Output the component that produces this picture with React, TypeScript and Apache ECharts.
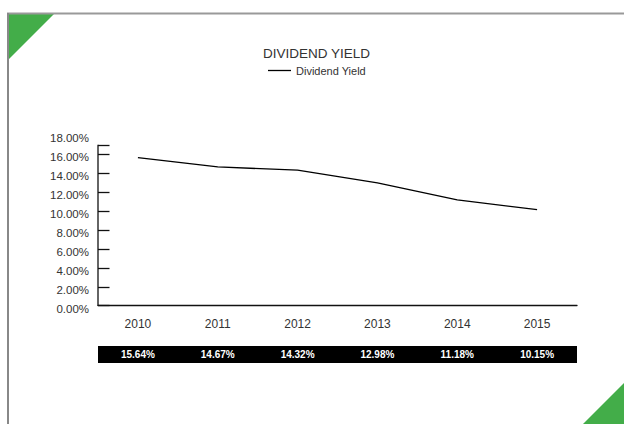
import React, { useEffect, useRef } from "react";
import * as echarts from "echarts";

const titleText = "DIVIDEND YIELD";
const seriesName = "Dividend Yield";
const years = ["2010", "2011", "2012", "2013", "2014", "2015"];
const yieldValues = [15.64, 14.67, 14.32, 12.98, 11.18, 10.15];
const yTickValues = [0, 2, 4, 6, 8, 10, 12, 14, 16];
const yAxisLineTop = 17;
const yMax = 18;

const FONT = "'Liberation Sans', Arial, Helvetica, sans-serif";
const GREEN = "#43ad49";
const AXIS = "#111";

export default function App() {
  const ref = useRef<HTMLDivElement>(null);
  useEffect(() => {
    const chart = echarts.init(ref.current!, null, { renderer: "svg" });
    chart.setOption({
      animation: false,
      backgroundColor: "#fff",
      textStyle: { fontFamily: FONT },
      title: {
        text: titleText,
        left: 258,
        top: 41,
        textStyle: { fontSize: 13.5, fontWeight: "normal", color: "#333", fontFamily: FONT },
      },
      legend: {
        top: 60,
        left: 263,
        icon: "rect",
        itemWidth: 23,
        itemHeight: 1.3,
        itemGap: 10,
        textStyle: { fontSize: 11, color: "#333", fontFamily: FONT },
        data: [seriesName],
      },
      grid: [
        { left: 98, right: 47, top: 135.4, bottom: 118.3 },
        { left: 98, right: 47, top: 346, height: 17, show: true, backgroundColor: "#000", borderWidth: 0 },
      ],
      xAxis: [
        {
          type: "category",
          gridIndex: 0,
          data: years,
          boundaryGap: true,
          axisLine: { lineStyle: { color: AXIS, width: 1.3 } },
          axisTick: { inside: true, length: 3, lineStyle: { color: AXIS, width: 1.3 } },
          axisLabel: { color: "#333", fontSize: 12, margin: 12, fontFamily: FONT },
        },
        {
          type: "category",
          gridIndex: 1,
          data: years,
          boundaryGap: true,
          axisLine: { show: false },
          axisTick: { show: false },
          axisLabel: {
            inside: true,
            margin: 3.5,
            color: "#fff",
            fontSize: 10,
            fontWeight: "bold",
            fontFamily: FONT,
            formatter: (_v: string, i: number) => yieldValues[i].toFixed(2) + "%",
          },
        },
      ],
      yAxis: [
        {
          type: "value",
          gridIndex: 0,
          min: 0,
          max: yMax,
          interval: 2,
          splitLine: { show: false },
          axisLine: { show: false },
          axisTick: {
            show: true,
            inside: true,
            length: 11.5,
            customValues: [...yTickValues, yAxisLineTop],
            lineStyle: { color: AXIS, width: 1.3 },
          },
          axisLabel: {
            color: "#333",
            fontSize: 11.5,
            margin: 9,
            verticalAlign: "top",
            lineHeight: 5.6,
            fontFamily: FONT,
            formatter: (v: number) => v.toFixed(2) + "%",
          },
        },
        { type: "value", gridIndex: 1, show: false },
      ],
      series: [
        {
          name: seriesName,
          type: "line",
          xAxisIndex: 0,
          yAxisIndex: 0,
          data: yieldValues,
          symbol: "none",
          lineStyle: { color: "#000", width: 1.3 },
          itemStyle: { color: "#000" },
        },
      ],
    });

    const c0 = chart.convertToPixel({ xAxisIndex: 0 }, 0) as number;
    const c1 = chart.convertToPixel({ xAxisIndex: 0 }, 1) as number;
    const axisX = c0 - (c1 - c0) / 2;
    const yBottom = chart.convertToPixel({ yAxisIndex: 0 }, 0) as number;
    const yTop = chart.convertToPixel({ yAxisIndex: 0 }, yAxisLineTop) as number;

    chart.setOption({
      graphic: [
        {
          type: "polygon",
          shape: { points: [[8, 13], [55, 13], [8, 60]] },
          style: { fill: GREEN },
          silent: true,
        },
        {
          type: "polygon",
          shape: { points: [[583, 424], [624, 383], [624, 424]] },
          style: { fill: GREEN },
          silent: true,
        },
        {
          type: "line",
          shape: { x1: 7, y1: 13.5, x2: 624, y2: 13.5 },
          style: { stroke: "#999", lineWidth: 2 },
          silent: true,
        },
        {
          type: "line",
          shape: { x1: 8, y1: 13, x2: 8, y2: 424 },
          style: { stroke: "#888", lineWidth: 2 },
          silent: true,
        },
        {
          type: "line",
          shape: { x1: axisX, y1: yBottom, x2: axisX, y2: yTop },
          style: { stroke: AXIS, lineWidth: 1.3 },
          silent: true,
        },
      ],
    });

    return () => chart.dispose();
  }, []);
  return (
    <div
      ref={ref}
      style={{ position: "absolute", left: 0, top: 0, width: 624, height: 424 }}
    />
  );
}
